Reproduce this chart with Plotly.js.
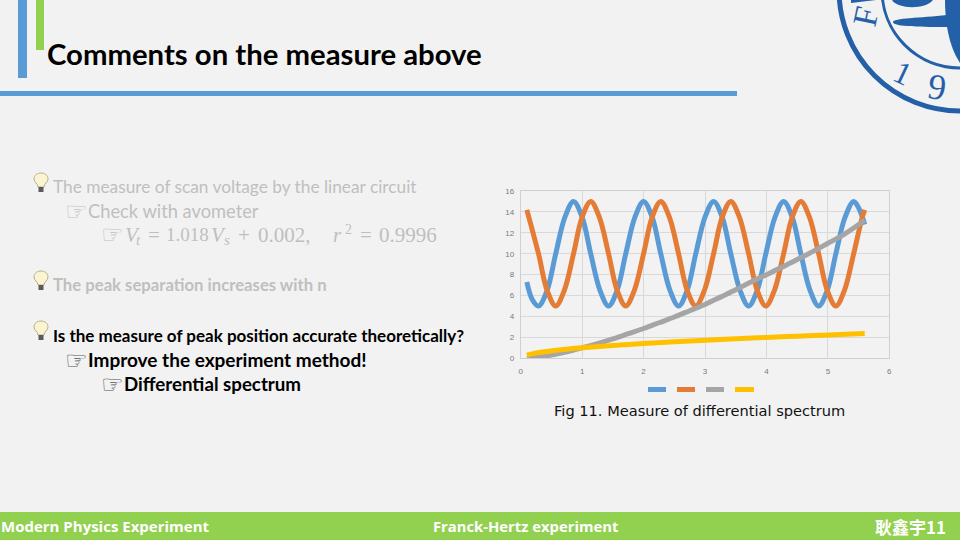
<!DOCTYPE html>
<html><head><meta charset="utf-8">
<script src="https://cdn.plot.ly/plotly-3.0.1.min.js"></script>
<style>html,body{margin:0;padding:0;background:#f2f2f2;overflow:hidden}#c{width:960px;height:540px}</style>
</head><body><div id="c"></div>
<script>
const blueX=[0.1,0.19,0.29,0.43,0.57,0.72,0.86,1.0,1.14,1.29,1.43,1.57,1.71,1.86,2.0,2.14,2.28,2.43,2.57,2.71,2.85,3.0,3.14,3.28,3.42,3.57,3.71,3.85,3.99,4.14,4.28,4.42,4.56,4.71,4.85,4.99,5.13,5.28,5.42,5.5,5.6];
const blueY=[7.3,5.6,5,6.5,10,13.5,15,13.5,10,6.5,5,6.5,10,13.5,15,13.5,10,6.5,5,6.5,10,13.5,15,13.5,10,6.5,5,6.5,10,13.5,15,13.5,10,6.5,5,6.5,10,13.5,15,14.4,12.8];
const orangeX=[0.1,0.29,0.43,0.57,0.71,0.86,1.0,1.14,1.28,1.43,1.57,1.71,1.85,2.0,2.14,2.28,2.42,2.57,2.71,2.85,2.99,3.14,3.28,3.42,3.56,3.71,3.85,3.99,4.13,4.28,4.42,4.56,4.7,4.85,4.99,5.13,5.27,5.42,5.56,5.6];
const orangeY=[14.2,10,6.5,5,6.5,10,13.5,15,13.5,10,6.5,5,6.5,10,13.5,15,13.5,10,6.5,5,6.5,10,13.5,15,13.5,10,6.5,5,6.5,10,13.5,15,13.5,10,6.5,5,6.5,10,13.5,14.2];
const grayX=[0.1,0.3,0.5,0.75,1,1.25,1.5,1.75,2,2.25,2.5,2.75,3,3.25,3.5,3.75,4,4.25,4.5,4.75,5,5.25,5.6];
const grayY=[0,0.1,0.3,0.62,1,1.4,1.85,2.35,2.85,3.4,3.95,4.55,5.15,5.85,6.55,7.3,8,8.7,9.45,10.2,11,11.8,13.2];
const yellowX=[0.1,0.2,0.4,0.7,1,1.5,2,2.5,3,3.5,4,4.5,5,5.6];
const yellowY=[0.3,0.45,0.63,0.84,1,1.22,1.41,1.58,1.73,1.87,2,2.12,2.24,2.36];
const xTicks=[0,1,2,3,4,5,6];
const yTicks=[0,2,4,6,8,10,12,14,16];
const titleText="Comments on the measure above";
const captionText="Fig 11. Measure of differential spectrum";
const footerLeft="Modern Physics Experiment";
const footerMid="Franck-Hertz experiment";
const footerRight="耿鑫宇11";

const W=960,H=540;
const px=x=>x/W, py=y=>1-y/H;
const BLUE='#5b9bd5',ORANGE='#e57c35',GRAY='#a5a5a5',YELLOW='#ffc000';
const line=(x,y,c)=>({x,y,mode:'lines',line:{color:c,width:5,shape:'spline',smoothing:1},hoverinfo:'skip'});
const traces=[line(blueX,blueY,BLUE),line(orangeX,orangeY,ORANGE),line(grayX,grayY,GRAY),line(yellowX,yellowY,YELLOW)];

const rect=(x0,y0,x1,y1,c)=>({type:'rect',xref:'paper',yref:'paper',x0:px(x0),x1:px(x1),y0:py(y0),y1:py(y1),fillcolor:c,line:{width:0},layer:'below'});
const ring=(cx,cy,r,w,c)=>({type:'circle',xref:'paper',yref:'paper',x0:px(cx-r),x1:px(cx+r),y0:py(cy-r),y1:py(cy+r),fillcolor:'rgba(0,0,0,0)',line:{color:c,width:w},layer:'below'});
const P=(segs)=>segs.map(s=>s[0]+' '+s.slice(1).map((v,i)=>i%2?py(v):px(v)).join(' ')).join(' ')+' Z';
const blob=(segs,c,lc,lw)=>({type:'path',xref:'paper',yref:'paper',path:P(segs),fillcolor:c,line:{color:lc||c,width:lw||0},layer:'below'});
const bulb=(x,y)=>[
 blob([['M',x-7,y+7],['C',x-7,y-1,x+7,y-1,x+7,y+7],['C',x+7,y+11,x+3,y+11,x+3,y+15],['L',x-3,y+15],['C',x-3,y+11,x-7,y+11,x-7,y+7]],'#fbf4d2','#b9ae88',1),
 rect(x-2.5,y+15,x+2.5,y+20,'#5a5a5a')
];
const logo='#2460a7';
const shapes=[
 rect(18,0,27,78,BLUE),rect(36,0,44,50,'#92d050'),rect(0,91,737,96,BLUE),
 rect(0,512,960,540,'#92d050'),
 ring(960,-10,121,5,logo),ring(960,-10,78,3,logo),
 blob([['M',893,22],['C',893,18,920,18,947,15],['L',947,27],['C',925,27,893,27,893,22]],logo),
 blob([['M',945,0],['C',945,20,948,45,960,63],['L',960,0]],logo),
 blob([['M',892,0],['C',897,9,925,10,933,0]],logo),
 blob([['M',851,3],['L',876,0],['L',851,0]],logo),
 rect(648,387,666,392,BLUE),rect(677,387,695,392,ORANGE),rect(706,387,724,392,GRAY),rect(735,387,754,392,YELLOW),
 ...bulb(41,172),...bulb(41,270),...bulb(41,320)
];
const txt=(t,x,y,size,color,o={})=>Object.assign({text:t,x:px(x),y:py(y),xref:'paper',yref:'paper',xanchor:'left',yanchor:'middle',showarrow:false,font:{family:'Lato',size,color}},o);
const grey='#bfbfbf',blk='#000000';
const hand='☞';
const handFont=c=>({font:{family:'DejaVu Sans',size:25,color:c}});
const mt=(t,x,y,size)=>txt(t,x,y,size,grey,{font:{family:'Liberation Serif',size,color:grey}});
const annotations=[
 txt('<b>'+titleText+'</b>',45,54,29.3,'#000'),
 txt('The measure of scan voltage by the linear circuit',51,186,17.3,grey),
 txt(hand,63,211,25,grey,handFont(grey)),
 txt('Check with avometer',86,211,18.3,grey),
 txt(hand,99,235,25,grey,handFont(grey)),
 mt('<i>V</i>',123,235,21),mt('<i>t</i>',134,240,15),
 mt('=',146,235,21),mt('1.018',164,235,19),
 mt('<i>V</i>',209,235,21),mt('<i>s</i>',222,240,15),
 mt('+',236,235,21),mt('0.002,',256,235,21),
 mt('<i>r</i>',331,235,21),mt('2',343,229,14),
 mt('=',358,235,21),mt('0.9996',377,235,21),
 txt('<b>The peak separation increases with n</b>',51,285,16.7,grey),
 txt('<b>Is the measure of peak position accurate theoretically?</b>',51,335,17,blk),
 txt(hand,63,360,25,'#555',handFont('#555')),
 txt('<b>Improve the experiment method!</b>',86,359.5,19,blk),
 txt(hand,99,384,25,'#555',handFont('#555')),
 txt('<b>Differential spectrum</b>',122,384,18.7,blk),
 txt(captionText,552,410.5,14.6,'#111',{font:{family:'DejaVu Sans',size:14.6,color:'#111'}}),
 txt('<b>'+footerLeft+'</b>',-1,526,15,'#fff',{font:{family:'Open Sans',size:15,color:'#fff'}}),
 txt('<b>'+footerMid+'</b>',431,526,14.8,'#fff',{font:{family:'Open Sans',size:14.8,color:'#fff'}}),
 txt('<b>'+footerRight+'</b>',873,526,17,'#fff',{font:{family:'Noto Sans CJK SC',size:17,color:'#fff'}}),
 txt('F',866,17,34,logo,{textangle:-78,font:{family:'Liberation Serif',size:34,color:logo},xanchor:'center'}),
 txt('1',903,73,32,logo,{textangle:25,font:{family:'Liberation Serif',size:32,color:logo},xanchor:'center'}),
 txt('9',937,87,36,logo,{textangle:8,font:{family:'Liberation Serif',size:36,color:logo},xanchor:'center'})
];
const axisBase={showgrid:true,gridcolor:'#d9d9d9',gridwidth:1,zeroline:false,showline:true,linecolor:'#d0d0d0',linewidth:1,mirror:true,ticks:'',tickfont:{family:'Liberation Sans',size:8,color:'#7a7a7a'}};
const layout={
 width:W,height:H,margin:{l:0,r:0,t:0,b:0},paper_bgcolor:'#f2f2f2',plot_bgcolor:'#f2f2f2',
 xaxis:Object.assign({},axisBase,{domain:[520.7/W,889.3/W],range:[0,6],tickvals:xTicks,ticktext:xTicks.map(String),ticklabelstandoff:5}),
 yaxis:Object.assign({},axisBase,{domain:[1-358.3/H,1-191/H],range:[0,16],tickvals:yTicks,ticktext:yTicks.map(String),ticklabelstandoff:4}),
 showlegend:false,
 shapes,annotations
};
Plotly.newPlot('c',traces,layout,{displayModeBar:false,staticPlot:true});
</script></body></html>
